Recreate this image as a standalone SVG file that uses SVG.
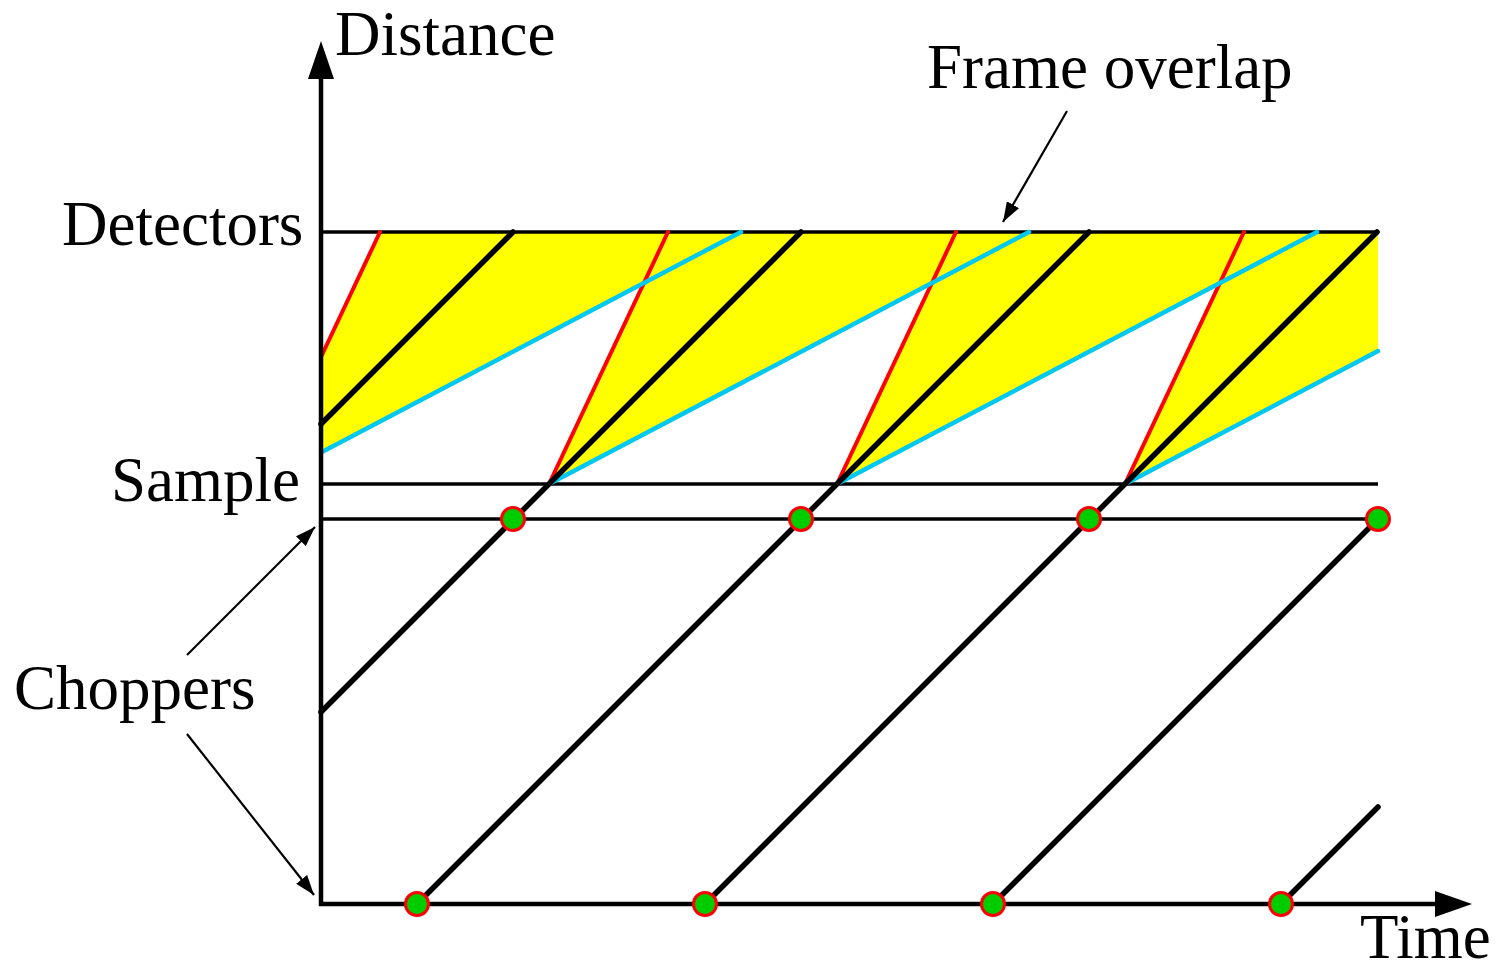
<svg xmlns="http://www.w3.org/2000/svg" width="1501" height="972" viewBox="0 0 1501 972">
<style>
.lbl{font-family:"Liberation Serif","Times New Roman",serif;font-size:63px;fill:#000}
.h{stroke:#000;stroke-width:3.5;fill:none}
.ax{stroke:#000;stroke-width:4.5;fill:none}
.blk{stroke:#000;stroke-width:5.5;fill:none;stroke-linecap:round}
.red{stroke:#FF0000;stroke-width:4;fill:none;stroke-linecap:round}
.cy{stroke:#00C8F0;stroke-width:4.5;fill:none;stroke-linecap:round}
.yel{fill:#FFFF00;stroke:none}
.dot{fill:#00CC00;stroke:#FF0000;stroke-width:3}
.ann{stroke:#000;stroke-width:2.2;fill:none}
</style>
<defs>
<marker id="ah" viewBox="0 0 20 14" refX="20" refY="7" markerWidth="20" markerHeight="14" markerUnits="userSpaceOnUse" orient="auto">
<path d="M0,0 L20,7 L0,14 Z" fill="#000"/>
</marker>
</defs>
<rect width="1501" height="972" fill="#fff"/>
<g id="frames">
<polygon class="yel" points="321,357 380,232 741,232 321,452.5"/>
<polygon class="yel" points="549,484 668,232 1029,232"/>
<polygon class="yel" points="837,484 956,232 1317,232"/>
<polygon class="yel" points="1125,484 1244,232 1378,232 1378,351"/>
</g>
<g id="levels">
<line class="h" x1="321" y1="232" x2="1378" y2="232"/>
<line class="h" x1="321" y1="484" x2="1378" y2="484"/>
<line class="h" x1="321" y1="519" x2="1378" y2="519"/>
</g>
<g id="connectors">
<line class="red" x1="321" y1="357" x2="380" y2="232"/>
<line class="red" x1="549" y1="484" x2="668" y2="232"/>
<line class="red" x1="837" y1="484" x2="956" y2="232"/>
<line class="red" x1="1125" y1="484" x2="1244" y2="232"/>
<line class="cy" x1="321" y1="452.5" x2="741" y2="232"/>
<line class="cy" x1="549" y1="484" x2="1029" y2="232"/>
<line class="cy" x1="837" y1="484" x2="1317" y2="232"/>
<line class="cy" x1="1125" y1="484" x2="1378" y2="351"/>
<line class="blk" x1="321" y1="424" x2="513" y2="232"/>
<line class="blk" x1="321" y1="712" x2="801" y2="232"/>
<line class="blk" x1="417" y1="904" x2="1089" y2="232"/>
<line class="blk" x1="705" y1="904" x2="1377" y2="232"/>
<line class="blk" x1="993" y1="904" x2="1378" y2="519"/>
<line class="blk" x1="1281" y1="904" x2="1378" y2="807"/>
<line class="ann" x1="1067" y1="111" x2="1003" y2="222" marker-end="url(#ah)"/>
<line class="ann" x1="187" y1="655" x2="315" y2="527" marker-end="url(#ah)"/>
<line class="ann" x1="187" y1="734" x2="314" y2="895" marker-end="url(#ah)"/>
</g>
<g id="axes">
<line class="ax" x1="321" y1="906" x2="321" y2="75"/>
<polygon points="321,41 308,79 334,79" fill="#000"/>
<line class="ax" x1="319" y1="904" x2="1440" y2="904"/>
<polygon points="1472,904 1435,891 1435,917" fill="#000"/>
</g>
<g id="choppers">
<circle class="dot" cx="513" cy="519" r="11.5"/>
<circle class="dot" cx="801" cy="519" r="11.5"/>
<circle class="dot" cx="1089" cy="519" r="11.5"/>
<circle class="dot" cx="1378" cy="519" r="11.5"/>
<circle class="dot" cx="417" cy="904" r="11.5"/>
<circle class="dot" cx="705" cy="904" r="11.5"/>
<circle class="dot" cx="993" cy="904" r="11.5"/>
<circle class="dot" cx="1281" cy="904" r="11.5"/>
</g>
<g id="labels">
<text class="lbl" x="335" y="55">Distance</text>
<text class="lbl" x="927" y="88">Frame overlap</text>
<text class="lbl" x="62" y="245">Detectors</text>
<text class="lbl" x="111" y="501">Sample</text>
<text class="lbl" x="14" y="709">Choppers</text>
<text class="lbl" x="1360" y="958">Time</text>
</g>
</svg>
